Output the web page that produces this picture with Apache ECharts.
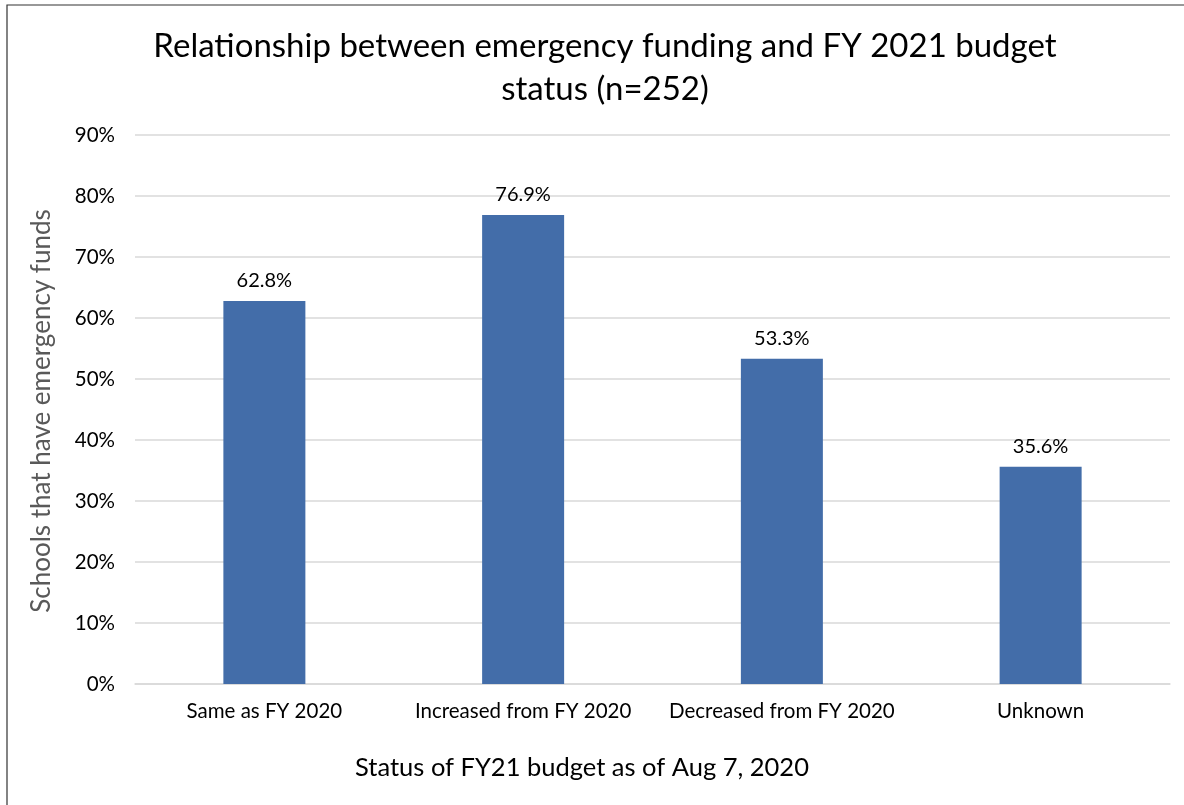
<!DOCTYPE html>
<html>
<head>
<meta charset="utf-8">
<script src="https://cdn.jsdelivr.net/npm/echarts@6/dist/echarts.min.js"></script>
<style>
html,body{margin:0;padding:0;background:#fff;}
#chart{width:1184px;height:805px;}
</style>
</head>
<body>
<div id="chart"></div>
<script>
const categories = ['Same as FY 2020', 'Increased from FY 2020', 'Decreased from FY 2020', 'Unknown'];
const values = [62.8, 76.9, 53.3, 35.6];
const titleText = 'Relationship between emergency funding and FY 2021 budget\nstatus (n=252)';
const xName = 'Status of FY21 budget as of Aug 7, 2020';
const yName = 'Schools that have emergency funds';

const FONT = 'Lato';
const chart = echarts.init(document.getElementById('chart'), null, {renderer: 'canvas'});
chart.setOption({
  backgroundColor: '#fff',
  animation: false,
  title: {
    text: titleText,
    left: 600,
    top: 20,
    textAlign: 'center',
    textStyle: {fontFamily: FONT, fontSize: 33, fontWeight: 'normal', color: '#000', lineHeight: 43}
  },
  grid: {left: 135, right: 14, top: 135, bottom: 121},
  xAxis: {
    type: 'category',
    data: categories,
    axisLine: {lineStyle: {color: '#D9D9D9', width: 1.5}},
    axisTick: {show: false},
    axisLabel: {interval: 0, fontFamily: FONT, fontSize: 20.5, color: '#000', margin: 17}
  },
  yAxis: {
    type: 'value',
    min: 0, max: 90, interval: 10,
    axisLine: {show: false},
    axisTick: {show: false},
    splitLine: {lineStyle: {color: '#D9D9D9', width: 1.5}},
    axisLabel: {fontFamily: FONT, fontSize: 20.5, color: '#000', margin: 20, formatter: v => v + '%'}
  },
  series: [{
    type: 'bar',
    data: values,
    barWidth: 82,
    itemStyle: {color: '#436DA9'},
    label: {
      show: true, position: 'top', distance: 10,
      fontFamily: FONT, fontSize: 20, color: '#000',
      formatter: p => p.value.toFixed(1) + '%'
    }
  }],
  graphic: [
    {type: 'rect', shape: {x: 7, y: 5, width: 1200, height: 900}, style: {fill: 'none', stroke: '#333', lineWidth: 1.2}, silent: true},
    {type: 'text', x: 582, y: 768, style: {text: xName, fontFamily: FONT, fontSize: 25.5, fill: '#000', textAlign: 'center', textVerticalAlign: 'middle'}},
    {type: 'text', x: 42, y: 411, rotation: Math.PI / 2, style: {text: yName, fontFamily: FONT, fontSize: 26, fill: '#595959', textAlign: 'center', textVerticalAlign: 'middle'}}
  ]
});
</script>
</body>
</html>
